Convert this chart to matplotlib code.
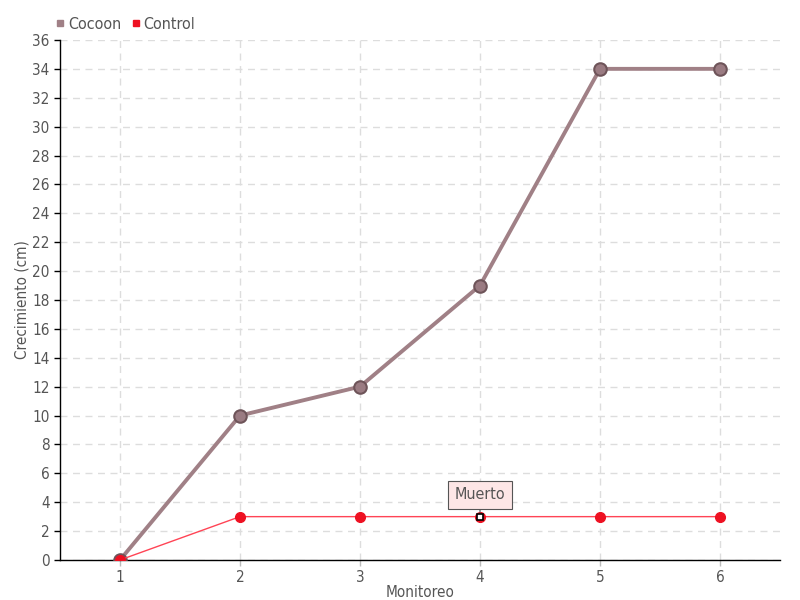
import matplotlib
matplotlib.use("Agg")
import matplotlib.pyplot as plt
from matplotlib.lines import Line2D

monitoreo = [1, 2, 3, 4, 5, 6]
cocoon = [0, 10, 12, 19, 34, 34]
control = [0, 3, 3, 3, 3, 3]
yticks = list(range(0, 37, 2))

plt.rcParams['font.family'] = ['DejaVu Sans']
plt.rcParams['font.stretch'] = 'condensed'
txt = '#555555'

fig = plt.figure(figsize=(8, 6), dpi=100)
ax = fig.add_axes([0.075, 0.0667, 0.9, 0.8667])

ax.plot(monitoreo, cocoon, color='#a08086', lw=2.8, marker='o', ms=9,
        mfc='#9a7b82', mec='#6e5459', mew=1.5, zorder=3, label='Cocoon')
ax.plot(monitoreo, control, color='#ff4455', lw=1, marker='o', ms=7,
        mfc='#ee1122', mec='#ee1122', zorder=4, label='Control')
ax.plot([4], [3], marker='s', ms=5, mfc='white', mec='black', mew=1.2, zorder=5)

ax.annotate('Muerto', xy=(4, 3), xytext=(4, 4.5), ha='center', va='center',
            fontsize=11.5, color=txt,
            bbox=dict(boxstyle='square,pad=0.4', fc='#fde6e6', ec='#555555', lw=0.8),
            arrowprops=dict(arrowstyle='-', color='#555555', lw=0.8,
                            shrinkA=0, shrinkB=3), zorder=6)

ax.set_xlim(0.5, 6.5)
ax.set_ylim(0, 36)
ax.set_xticks(monitoreo)
ax.set_yticks(yticks)
ax.grid(True, color='#dddddd', ls=(0, (5, 4)), lw=1)
ax.set_axisbelow(True)
for s in ['top', 'right']:
    ax.spines[s].set_visible(False)
for s in ['left', 'bottom']:
    ax.spines[s].set_color('black')
    ax.spines[s].set_linewidth(1)
ax.tick_params(colors=txt, labelsize=11, length=4, width=1)
ax.tick_params(axis='x', color='#bbbbbb')
ax.tick_params(axis='y', color='black')
ax.set_xlabel('Monitoreo', color=txt, fontsize=11, labelpad=0)
ax.set_ylabel('Crecimiento (cm)', color=txt, fontsize=11, labelpad=2)

handles = [Line2D([], [], ls='', marker='s', ms=5, color='#a08086'),
           Line2D([], [], ls='', marker='s', ms=5, color='#ee1122')]
fig.legend(handles, ['Cocoon', 'Control'], loc='upper left', bbox_to_anchor=(0.053, 0.993),
           ncol=2, frameon=False, fontsize=11.5, labelcolor=txt, handlelength=0.6,
           handletextpad=0.2, columnspacing=0.6, borderaxespad=0.4)

fig.savefig('out.png', dpi=100)
